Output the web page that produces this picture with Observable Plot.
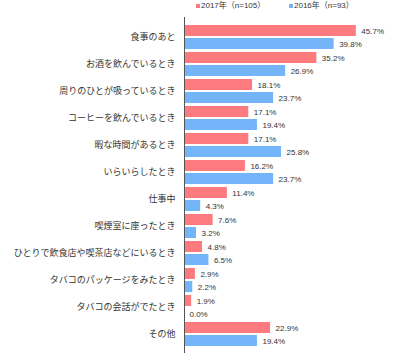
<!DOCTYPE html>
<html><head><meta charset="utf-8">
<script src="https://cdn.jsdelivr.net/npm/d3@7"></script>
<script src="https://cdn.jsdelivr.net/npm/@observablehq/plot@0.6"></script>
<style>
html,body{margin:0;padding:0;background:#fff;}
#wrap{width:400px;position:relative;font-family:"Liberation Sans","Noto Sans CJK JP",sans-serif;}
#legend{position:relative;height:14px;font-size:8px;color:#333;}
#legend span.sw{position:absolute;width:4px;height:4px;top:4px;}
#legend span.tx{position:absolute;top:1px;line-height:10px;white-space:nowrap;}
svg text{font-family:"Liberation Sans","Noto Sans CJK JP",sans-serif;}
</style></head>
<body><div id="wrap"><div id="legend"></div><div id="chart"></div></div>
<script>
const categories = ["食事のあと","お酒を飲んでいるとき","周りのひとが吸っているとき","コーヒーを飲んでいるとき","暇な時間があるとき","いらいらしたとき","仕事中","喫煙室に座ったとき","ひとりで飲食店や喫茶店などにいるとき","タバコのパッケージをみたとき","タバコの会話がでたとき","その他"];
const series = ["2017年（n=105）","2016年（n=93）"];
const values2017 = [45.7,35.2,18.1,17.1,17.1,16.2,11.4,7.6,4.8,2.9,1.9,22.9];
const values2016 = [39.8,26.9,23.7,19.4,25.8,23.7,4.3,3.2,6.5,2.2,0.0,19.4];
const colors = ["#fd7b7e","#73b5f8"];

const d17 = categories.map((c,i)=>({cat:c, v:values2017[i]}));
const d16 = categories.map((c,i)=>({cat:c, v:values2016[i]}));

const legend = document.getElementById("legend");
const lx = [[196,201],[289,294]];
series.forEach((s,i)=>{
  const sw=document.createElement("span");sw.className="sw";sw.style.left=lx[i][0]+"px";sw.style.background=colors[i];legend.appendChild(sw);
  const tx=document.createElement("span");tx.className="tx";tx.style.left=lx[i][1]+"px";tx.textContent=s;legend.appendChild(tx);
});

const fmt = v => v.toFixed(1)+"%";
const plot = Plot.plot({
  width: 400,
  height: 339,
  marginLeft: 184,
  marginRight: 28,
  marginTop: 3,
  marginBottom: 0,
  x: {domain:[0,50], axis:null},
  y: {domain:categories, padding:0.12, paddingOuter:0.09, axis:null},
  marks: [
    Plot.barX(d17, {y:"cat", x:"v", fill:colors[0], insetBottom:13}),
    Plot.barX(d16, {y:"cat", x:"v", fill:colors[1], insetTop:13}),
    Plot.text(d17, {y:"cat", x:"v", text:d=>fmt(d.v), textAnchor:"start", dx:5, dy:-6.5, fontSize:8, fill:"#333"}),
    Plot.text(d16, {y:"cat", x:"v", text:d=>fmt(d.v), textAnchor:"start", dx:5, dy:6.5, fontSize:8, fill:"#333"}),
    Plot.text(categories, {y:d=>d, x:0, text:d=>d, textAnchor:"end", dx:-9, fontSize:9, fill:"#333", fontFamily:"'Noto Sans CJK JP',sans-serif"}),
    Plot.ruleX([0], {stroke:"#555", strokeWidth:1})
  ]
});
document.getElementById("chart").appendChild(plot);
</script></body></html>
